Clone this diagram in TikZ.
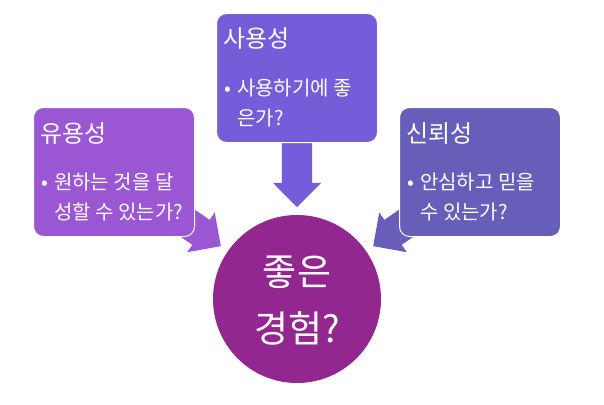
\documentclass[tikz,border=0pt]{standalone}
\usepackage{fontspec}
\setmainfont{Noto Sans CJK KR}
\usetikzlibrary{calc,shapes.arrows,backgrounds}

\definecolor{violetA}{HTML}{92278F}
\definecolor{violetB}{HTML}{9B57D3}
\definecolor{violetC}{HTML}{755DD9}
\definecolor{violetD}{HTML}{665EB8}

\begin{document}
\begin{tikzpicture}[x=1pt, y=-1pt,
		box/.style={draw=white, line width=1pt, rounded corners=10pt, minimum width=161pt, minimum height=129pt, anchor=north west, inner sep=0},
		title/.style={anchor=base west, text=white, inner sep=0, font=\fontsize{24pt}{28pt}\selectfont},
		item/.style={anchor=base west, text=white, inner sep=0, align=left, font=\fontsize{20pt}{30pt}\selectfont},
		bigarrow/.style={single arrow, single arrow head extend=9pt, inner xsep=0, inner ysep=15pt, minimum height=80pt, anchor=tip, sloped, allow upside down}]
			\useasboundingbox (0,0) rectangle (604,404);

			\node[box, fill=violetB] (lbox) at (33,107) {};
			\node[box, fill=violetC] (tbox) at (216,13) {};
			\node[box, fill=violetD] (rbox) at (399,107) {};
			\node[circle, fill=violetA, minimum size=168pt, inner sep=0] (good) at (297,299) {};

			% Titles
			\node[title] (ltitle) at ($(lbox.north west)+(7,35)$) {유용성};
			\node[title] (ttitle) at ($(tbox.north west)+(7,35)$) {사용성};
			\node[title] (rtitle) at ($(rbox.north west)+(7,35)$) {신뢰성};

			% Bullets
			\node[item] (litem) at ($(lbox.north west)+(21,112)$) {\llap{•\hspace{6pt}}원하는 것을 달\\성할 수 있는가?};
			\node[item] (titem) at ($(tbox.north west)+(21,112)$) {\llap{•\hspace{6pt}}사용하기에 좋\\은가?};
			\node[item] (ritem) at ($(rbox.north west)+(21,112)$) {\llap{•\hspace{6pt}}안심하고 믿을\\수 있는가?};

			\node[align=center, text=white, font=\fontsize{37pt}{57pt}\selectfont] (goodtext) at ($(good.center)+(0,2)$) {좋은\\경험?};

			\begin{scope}[on background layer]
				\path (lbox.center) -- (good.center) node[bigarrow, pos=0.585, fill=violetB] (larrow) {};
				\path (tbox.center) -- (good.center) node[bigarrow, pos=0.585, fill=violetC] (tarrow) {};
				\path (rbox.center) -- (good.center) node[bigarrow, pos=0.585, fill=violetD] (rarrow) {};
			\end{scope}
		\end{tikzpicture}
\end{document}
